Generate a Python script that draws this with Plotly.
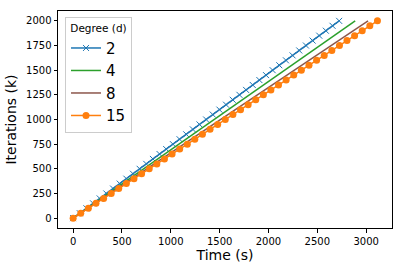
import plotly.graph_objects as go

iterations = [i * 50 for i in range(41)]

time_d2 = [0, 68, 136, 204, 272, 340, 409, 477, 545, 613, 681, 749, 817, 885, 953,
           1022, 1090, 1158, 1226, 1294, 1362, 1430, 1498, 1566, 1634, 1703, 1771,
           1839, 1907, 1975, 2043, 2111, 2179, 2247, 2315, 2384, 2452, 2520, 2588,
           2656, 2724]
iters_d4 = [0, 500, 1000, 1500, 2000]
time_d4 = [0, 722, 1444, 2166, 2888]
iters_d8 = [0, 500, 1000, 1500, 2000]
time_d8 = [0, 755, 1510, 2265, 3020]
time_d15 = [0, 78, 156, 234, 312, 390, 467, 545, 623, 701, 779, 857, 935, 1013,
            1091, 1169, 1246, 1324, 1402, 1480, 1558, 1636, 1714, 1792, 1870, 1948,
            2025, 2103, 2181, 2259, 2337, 2415, 2493, 2571, 2649, 2727, 2804, 2882,
            2960, 3038, 3116]

x_ticks = [0, 500, 1000, 1500, 2000, 2500, 3000]
y_ticks = [0, 250, 500, 750, 1000, 1250, 1500, 1750, 2000]

fig = go.Figure()
fig.add_trace(go.Scatter(x=time_d2, y=iterations, name="2", mode="lines+markers",
                         line=dict(color="#1f77b4", width=1.5),
                         marker=dict(symbol="x-thin", size=6, line=dict(color="#1f77b4", width=1))))
fig.add_trace(go.Scatter(x=time_d4, y=iters_d4, name="4", mode="lines",
                         line=dict(color="#2ca02c", width=1.5)))
fig.add_trace(go.Scatter(x=time_d8, y=iters_d8, name="8", mode="lines",
                         line=dict(color="#8c564b", width=1.5)))
fig.add_trace(go.Scatter(x=time_d15, y=iterations, name="15", mode="lines+markers",
                         line=dict(color="#ff7f0e", width=1.5),
                         marker=dict(symbol="circle", size=7, color="#ff7f0e")))

axis_common = dict(showgrid=False, zeroline=False, showline=True, linecolor="black",
                   linewidth=1, mirror=True, ticks="outside", ticklen=3.5,
                   tickcolor="black", tickfont=dict(size=10, color="black"),
                   automargin=False)

fig.update_layout(
    width=403, height=270,
    margin=dict(l=58, r=11, t=11, b=42),
    paper_bgcolor="white", plot_bgcolor="white",
    font=dict(family="DejaVu Sans", color="black"),
    xaxis=dict(range=[-155, 3265], tickvals=x_ticks,
               title=dict(text="Time (s)", font=dict(size=14), standoff=4), **axis_common),
    yaxis=dict(range=[-100, 2100], tickvals=y_ticks,
               title=dict(text="Iterations (k)", font=dict(size=14), standoff=6), **axis_common),
    legend=dict(x=0.021, y=0.972, xanchor="left", yanchor="top",
                bgcolor="white", bordercolor="#cccccc", borderwidth=1,
                font=dict(size=15), tracegroupgap=0,
                title=dict(text="Degree (d)", font=dict(size=10.5), side="top center")),
)

fig.write_html("out.html", config={"displayModeBar": False},
               post_script="document.body.style.margin='0';document.body.style.overflow='hidden';")
